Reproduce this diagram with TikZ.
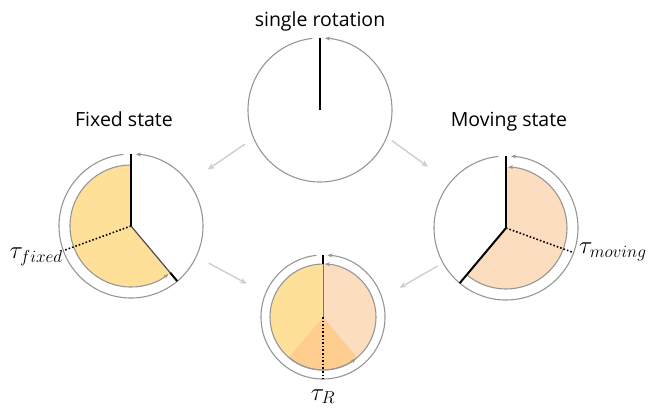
\documentclass[tikz,border=0pt]{standalone}
\usepackage{fontspec}
\setmainfont{Open Sans}
\usepackage{xcolor}
\usepackage{tikz}
\usetikzlibrary{arrows.meta, calc}
\definecolor{fixedyellow}{RGB}{255,224,153}
\definecolor{movingpeach}{RGB}{253,221,192}
\definecolor{overlaporange}{RGB}{255,205,142}
\definecolor{ringgray}{RGB}{150,150,150}
\definecolor{flowgray}{RGB}{206,206,206}

\begin{document}
\begin{tikzpicture}[x=1pt, y=1pt,
    state/.style={circle, inner sep=0pt, minimum size=#1},
    ring/.style={draw=ringgray, line width=1.1pt, -{Stealth[length=5pt, width=4pt]}},
    hand/.style={black, line width=2pt},
    tauline/.style={black, dotted, line width=1.6pt},
    flow/.style={flowgray, line width=1.4pt, -{Stealth[length=7pt, width=6pt]}},
    title/.style={font=\fontsize{19.5}{24}\selectfont, anchor=base},
    taulabel/.style={font=\fontsize{25}{28}\selectfont}]
\useasboundingbox (0,0) rectangle (653,-408);

% States
\node[state=144pt] (top) at (320,-110) {};
\node[state=144pt] (fixed) at (131,-226) {};
\node[state=144pt] (moving) at (506,-228) {};
\node[state=124pt] (bottom) at (323,-317) {};

% Titles
\node[title] (toptitle) at (320,-26) {single rotation};
\node[title] (fixedtitle) at (124,-126) {Fixed state};
\node[title] (movingtitle) at (509,-126) {Moving state};

% Fixed state sector
\fill[fixedyellow] (fixed.center) -- ++(90:61) arc[start angle=90, end angle=310, radius=61] -- cycle;
\draw[ring] (fixed.center) ++(90:61) arc[start angle=90, end angle=308, radius=61];

% Moving state sector
\fill[movingpeach] (moving.center) -- ++(230:61) arc[start angle=230, end angle=450, radius=61] -- cycle;
\draw[ring] (moving.center) ++(230:61) arc[start angle=230, end angle=448, radius=61];

% Result: both sectors and their overlap
\fill[fixedyellow] (bottom.center) -- ++(90:53) arc[start angle=90, end angle=310, radius=53] -- cycle;
\fill[movingpeach] (bottom.center) -- ++(230:53) arc[start angle=230, end angle=450, radius=53] -- cycle;
\fill[overlaporange] (bottom.center) -- ++(230:53) arc[start angle=230, end angle=310, radius=53] -- cycle;
\draw[ringgray!80!black, line width=1pt] (bottom.center) -- ++(90:53);
\draw[ring] (bottom.center) ++(90:53) arc[start angle=90, end angle=308, radius=53];
\draw[ring] (bottom.center) ++(230:53) arc[start angle=230, end angle=448, radius=53];

% Full rotation rings
\foreach \s/\r in {top/72, fixed/72, moving/72, bottom/62} {
    \draw[ring] (\s.center) ++(96:\r) arc[start angle=96, end angle=446, radius=\r];
}

% Hands
\draw[hand] (top.center) -- ++(90:72);
\draw[hand] (fixed.center) -- ++(90:72);
\draw[gray!60!black, line width=1.2pt] (fixed.center) -- ++(310:61);
\draw[hand] ($(fixed.center)+(310:61)$) -- ++(310:11);
\draw[hand] (moving.center) -- ++(90:72);
\draw[hand] (moving.center) -- ++(230:72);
\draw[hand] ($(bottom.center)+(90:53)$) -- ++(90:9);

% Tau lines and labels
\draw[tauline] (fixed.center) -- ++(200:72) coordinate (fixedtau);
\draw[tauline] (moving.center) -- ++(340:72) coordinate (movingtau);
\draw[tauline] (bottom.center) -- ++(270:62) coordinate (bottomtau);
\node[taulabel, anchor=base east] (taufixed) at ($(fixedtau)+(3,-8)$) {$\tau_{fixed}$};
\node[taulabel, anchor=base west] (taumoving) at ($(movingtau)+(2,-1)$) {$\tau_{moving}$};
\node[taulabel, anchor=base] (taur) at ($(bottomtau)+(0,-21)$) {$\tau_R$};

% Transitions
\draw[flow, shorten <=10.5pt, shorten >=23pt] (top.203) -- (fixed.37);
\draw[flow, shorten <=6pt, shorten >=27pt] (top.338) -- (moving.141);
\draw[flow, shorten <=14pt, shorten >=21pt] (fixed.335.5) -- (bottom.158);
\draw[flow, shorten <=6pt, shorten >=20pt] (moving.209.5) -- (bottom.18);
\end{tikzpicture}
\end{document}
